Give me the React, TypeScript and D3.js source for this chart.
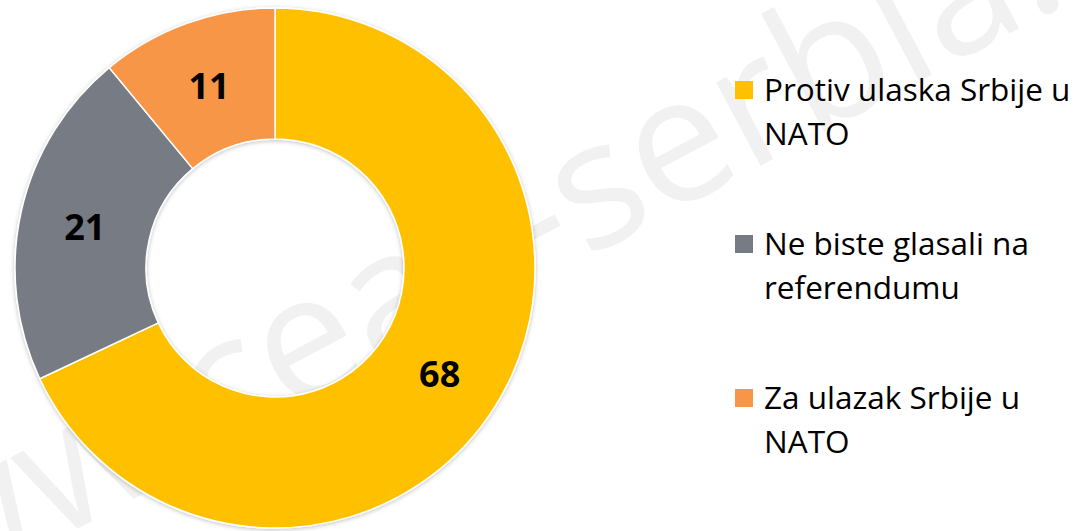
import * as d3 from 'd3';

// Poll answers, clockwise from 12 o'clock
const categories = ['Protiv ulaska Srbije u NATO', 'Ne biste glasali na referendumu', 'Za ulazak Srbije u NATO'];
const values = [68, 21, 11];
const legendLines = [['Protiv ulaska Srbije u', 'NATO'], ['Ne biste glasali na', 'referendumu'], ['Za ulazak Srbije u', 'NATO']];
const colors = ['#FFC000', '#777B84', '#F79646'];
const watermark = ['www.ceas', '-serbia.org'];

const width = 1084;
const height = 531;
const cx = 275;
const cy = 268;
const outerR = 260;
const innerR = 129;

const App = () => {
  const pie = d3.pie<number>().sort(null).value(d => d);
  const arcs = pie(values);
  const arc = d3.arc<d3.PieArcDatum<number>>().innerRadius(innerR).outerRadius(outerR);
  const labelArc = d3.arc<d3.PieArcDatum<number>>().innerRadius(130).outerRadius(260);

  const legendY = d3.scaleLinear().domain([0, 1]).range([101, 255]);

  return (
    <svg width={width} height={height} style={{ position: 'absolute', left: 0, top: 0 }}>
      <defs>
        <filter id="shadow" x="-10%" y="-10%" width="120%" height="120%">
          <feDropShadow dx="0" dy="1" stdDeviation="2" floodColor="#000" floodOpacity="0.25" />
        </filter>
      </defs>
      <rect width={width} height={height} fill="#fff" />

      {/* faint watermark behind the chart */}
      <g transform="translate(536,285) rotate(-28)" fontFamily="Open Sans, sans-serif" fontSize={176} fill="#f1f1f1">
        <text textAnchor="end">{watermark[0]}</text>
        <text textAnchor="start">{watermark[1]}</text>
      </g>

      <g transform={`translate(${cx},${cy})`} filter="url(#shadow)">
        {arcs.map((a, i) => (
          <path key={categories[i]} d={arc(a) || ''} fill={colors[i]} stroke="#fff" strokeWidth={1.5} />
        ))}
      </g>

      <g transform={`translate(${cx},${cy})`}>
        {arcs.map((a, i) => {
          const [x, y] = labelArc.centroid(a);
          return (
            <text
              key={i}
              x={x}
              y={y + 5}
              textAnchor="middle"
              dominantBaseline="middle"
              fontFamily="Open Sans, sans-serif"
              fontWeight="bold"
              fontSize={36}
              fill="#000"
            >
              {a.data}
            </text>
          );
        })}
      </g>

      <g>
        {legendLines.map((lines, i) => {
          const y = legendY(i);
          return (
            <g key={i}>
              <rect x={735} y={y - 20} width={18} height={18} fill={colors[i]} />
              {lines.map((t, j) => (
                <text
                  key={j}
                  x={764}
                  y={y + j * 44}
                  fontFamily="Open Sans, sans-serif"
                  fontSize={31.5}
                  fill="#000"
                >
                  {t}
                </text>
              ))}
            </g>
          );
        })}
      </g>
    </svg>
  );
};

export default App;
